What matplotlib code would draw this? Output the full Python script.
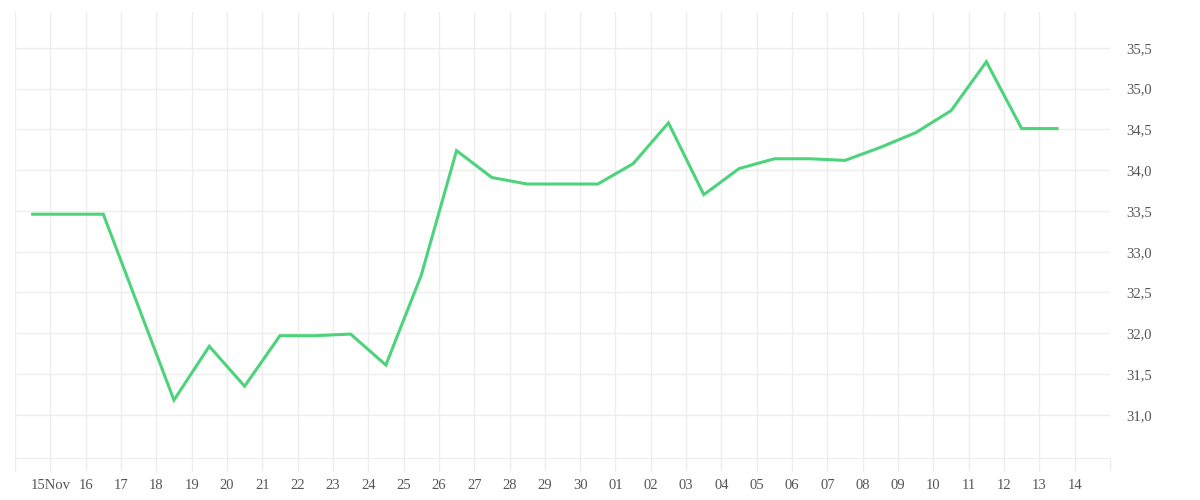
import pandas as pd
import matplotlib
matplotlib.use('Agg')
import matplotlib.pyplot as plt
import matplotlib.dates as mdates
from matplotlib.ticker import FuncFormatter, FixedLocator

# daily values, one per day at noon, 14 Nov -> 13 Dec
values = [33.46, 33.46, 33.46, 32.32, 31.18, 31.84, 31.35, 31.97, 31.97, 31.99,
          31.61, 32.71, 34.24, 33.91, 33.83, 33.83, 33.83, 34.08, 34.58, 33.70,
          34.02, 34.14, 34.14, 34.12, 34.28, 34.46, 34.73, 35.33, 34.51, 34.51]
start = '2023-11-14 12:00'
dates = pd.date_range(start, periods=len(values), freq='D')

y_ticks = [31.0, 31.5, 32.0, 32.5, 33.0, 33.5, 34.0, 34.5, 35.0, 35.5]

x_start = pd.Timestamp('2023-11-14')
x_end = pd.Timestamp('2023-12-15')

grid_col = '#eeeeee'
text_col = '#555555'
line_col = '#4cd37b'

plt.rcParams['font.family'] = ['Liberation Serif', 'DejaVu Serif']

fig = plt.figure(figsize=(12, 5), dpi=100)
ax = fig.add_axes([0.0125, 0.084, 0.9125, 0.892])

ax.plot(dates, values, color=line_col, linewidth=2.2, solid_joinstyle='miter')

ax.set_xlim(x_start, x_end)
ax.set_ylim(30.47, 35.94)

ax.xaxis.set_major_locator(mdates.DayLocator())


def fmt_day(x, pos):
    d = mdates.num2date(x)
    if d.month == 11 and d.day == 14:
        return ''
    if d.month == 12 and d.day == 15:
        return ''
    if d.month == 11 and d.day == 15:
        return '15Nov'
    return d.strftime('%d')


ax.xaxis.set_major_formatter(FuncFormatter(fmt_day))
ax.yaxis.set_major_locator(FixedLocator(y_ticks))
ax.yaxis.set_major_formatter(FuncFormatter(lambda v, p: ('%.1f' % v).replace('.', ',')))

ax.yaxis.tick_right()
ax.grid(True, color=grid_col, linewidth=1)
ax.set_axisbelow(True)

for side in ['top', 'left', 'right']:
    ax.spines[side].set_visible(False)
ax.spines['bottom'].set_color(grid_col)

ax.tick_params(axis='x', length=9, width=1, color=grid_col, labelcolor=text_col,
               labelsize=10.5, pad=6)
ax.tick_params(axis='y', length=0, labelcolor=text_col, labelsize=10.5, pad=12)
for lab in ax.get_yticklabels():
    lab.set_horizontalalignment('left')

fig.savefig('out.png', dpi=100, facecolor='white')
